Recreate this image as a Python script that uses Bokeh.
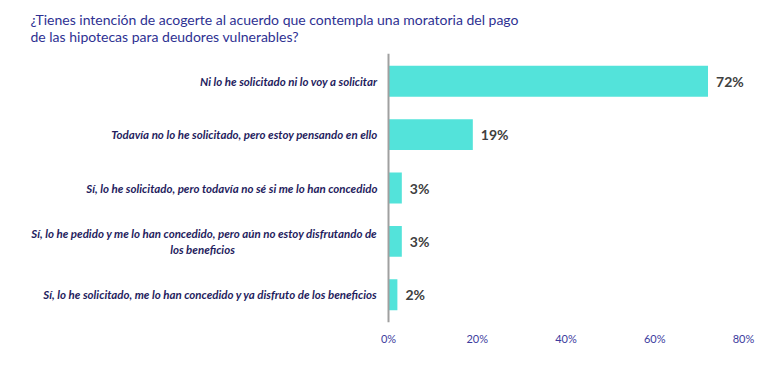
from bokeh.plotting import figure
from bokeh.models import Range1d, FixedTicker, PrintfTickFormatter, Span, ColumnDataSource, Title
from bokeh.core.properties import value
from bokeh.embed import file_html
from bokeh.resources import INLINE

title_text = ("¿Tienes intención de acogerte al acuerdo que contempla una moratoria del pago\n"
              "de las hipotecas para deudores vulnerables?")
categories = [
    "Ni lo he solicitado ni lo voy a solicitar",
    "Todavía no lo he solicitado, pero estoy pensando en ello",
    "Sí, lo he solicitado, pero todavía no sé si me lo han concedido",
    "Sí, lo he pedido y me lo han concedido, pero aún no estoy disfrutando de\nlos beneficios",
    "Sí, lo he solicitado, me lo han concedido y ya disfruto de los beneficios",
]
values = [72, 19, 3, 3, 2]
value_labels = ["72%", "19%", "3%", "3%", "2%"]
ticks = [0, 20, 40, 60, 80]

FONT = "Lato"
LABEL_SIZE = 11.5
n = len(categories)
ypos = [n - 1 - i for i in range(n)]

# first lines (right aligned) and continuation lines (centred under first line)
first_lines = [c.split("\n")[0] for c in categories]
first_y = []
for c, y in zip(categories, ypos):
    k = c.count("\n")
    first_y.append(y + k * 0.15)
cont_text, cont_y = [], []
for c, y in zip(categories, ypos):
    parts = c.split("\n")
    k = len(parts) - 1
    for j, part in enumerate(parts[1:], start=1):
        cont_text.append(part)
        cont_y.append(y + k * 0.15 - j * 0.30)

src = ColumnDataSource(dict(y=ypos, v=values, lab=value_labels, zero=[0] * n))
src_first = ColumnDataSource(dict(y=first_y, t=first_lines, zero=[0] * n))
src_cont = ColumnDataSource(dict(y=cont_y, t=cont_text, zero=[0] * len(cont_text)))

p = figure(width=760, height=364, output_backend="svg", toolbar_location=None,
           x_range=Range1d(-87.44, 83.83), y_range=Range1d(-0.52, n - 1 + 0.52),
           min_border_left=0, min_border_right=0, min_border_top=52, min_border_bottom=42)

t = Title(text=title_text, text_font=FONT, text_font_size="14px", text_font_style="normal",
          text_color="#2E3192", align="left", offset=30, standoff=17)
p.add_layout(t, "above")

p.hbar(y="y", left=0, right="v", height=0.58, source=src, fill_color="#53E3DA",
       line_color=None)

p.text(x="v", y="y", text="lab", source=src, x_offset=8, text_align="left",
       text_baseline="middle", text_font=value(FONT), text_font_size="14px",
       text_font_style="bold", text_color="#404040")

p.text(x="zero", y="y", text="t", source=src_first, x_offset=-11, text_align="right",
       text_baseline="middle", text_font=value(FONT), text_font_size=f"{LABEL_SIZE}px",
       text_font_style="bold italic", text_color="#1F1D5E")
p.text(x="zero", y="y", text="t", source=src_cont, x_offset=-186, text_align="center",
       text_baseline="middle", text_font=value(FONT), text_font_size=f"{LABEL_SIZE}px",
       text_font_style="bold italic", text_color="#1F1D5E")

p.add_layout(Span(location=0, dimension="height", line_color="#A0A0A0", line_width=2))

p.yaxis.visible = False
p.xgrid.visible = False
p.ygrid.visible = False
p.outline_line_color = None
p.background_fill_color = "white"
p.border_fill_color = "white"

ax = p.xaxis[0]
ax.ticker = FixedTicker(ticks=ticks)
ax.formatter = PrintfTickFormatter(format="%d%%")
ax.axis_line_color = None
ax.major_tick_line_color = None
ax.minor_tick_line_color = None
ax.major_label_standoff = 3
ax.major_label_text_font = FONT
ax.major_label_text_font_size = "11px"
ax.major_label_text_color = "#3C3C9E"

open("out.html", "w").write(file_html(p, INLINE))
